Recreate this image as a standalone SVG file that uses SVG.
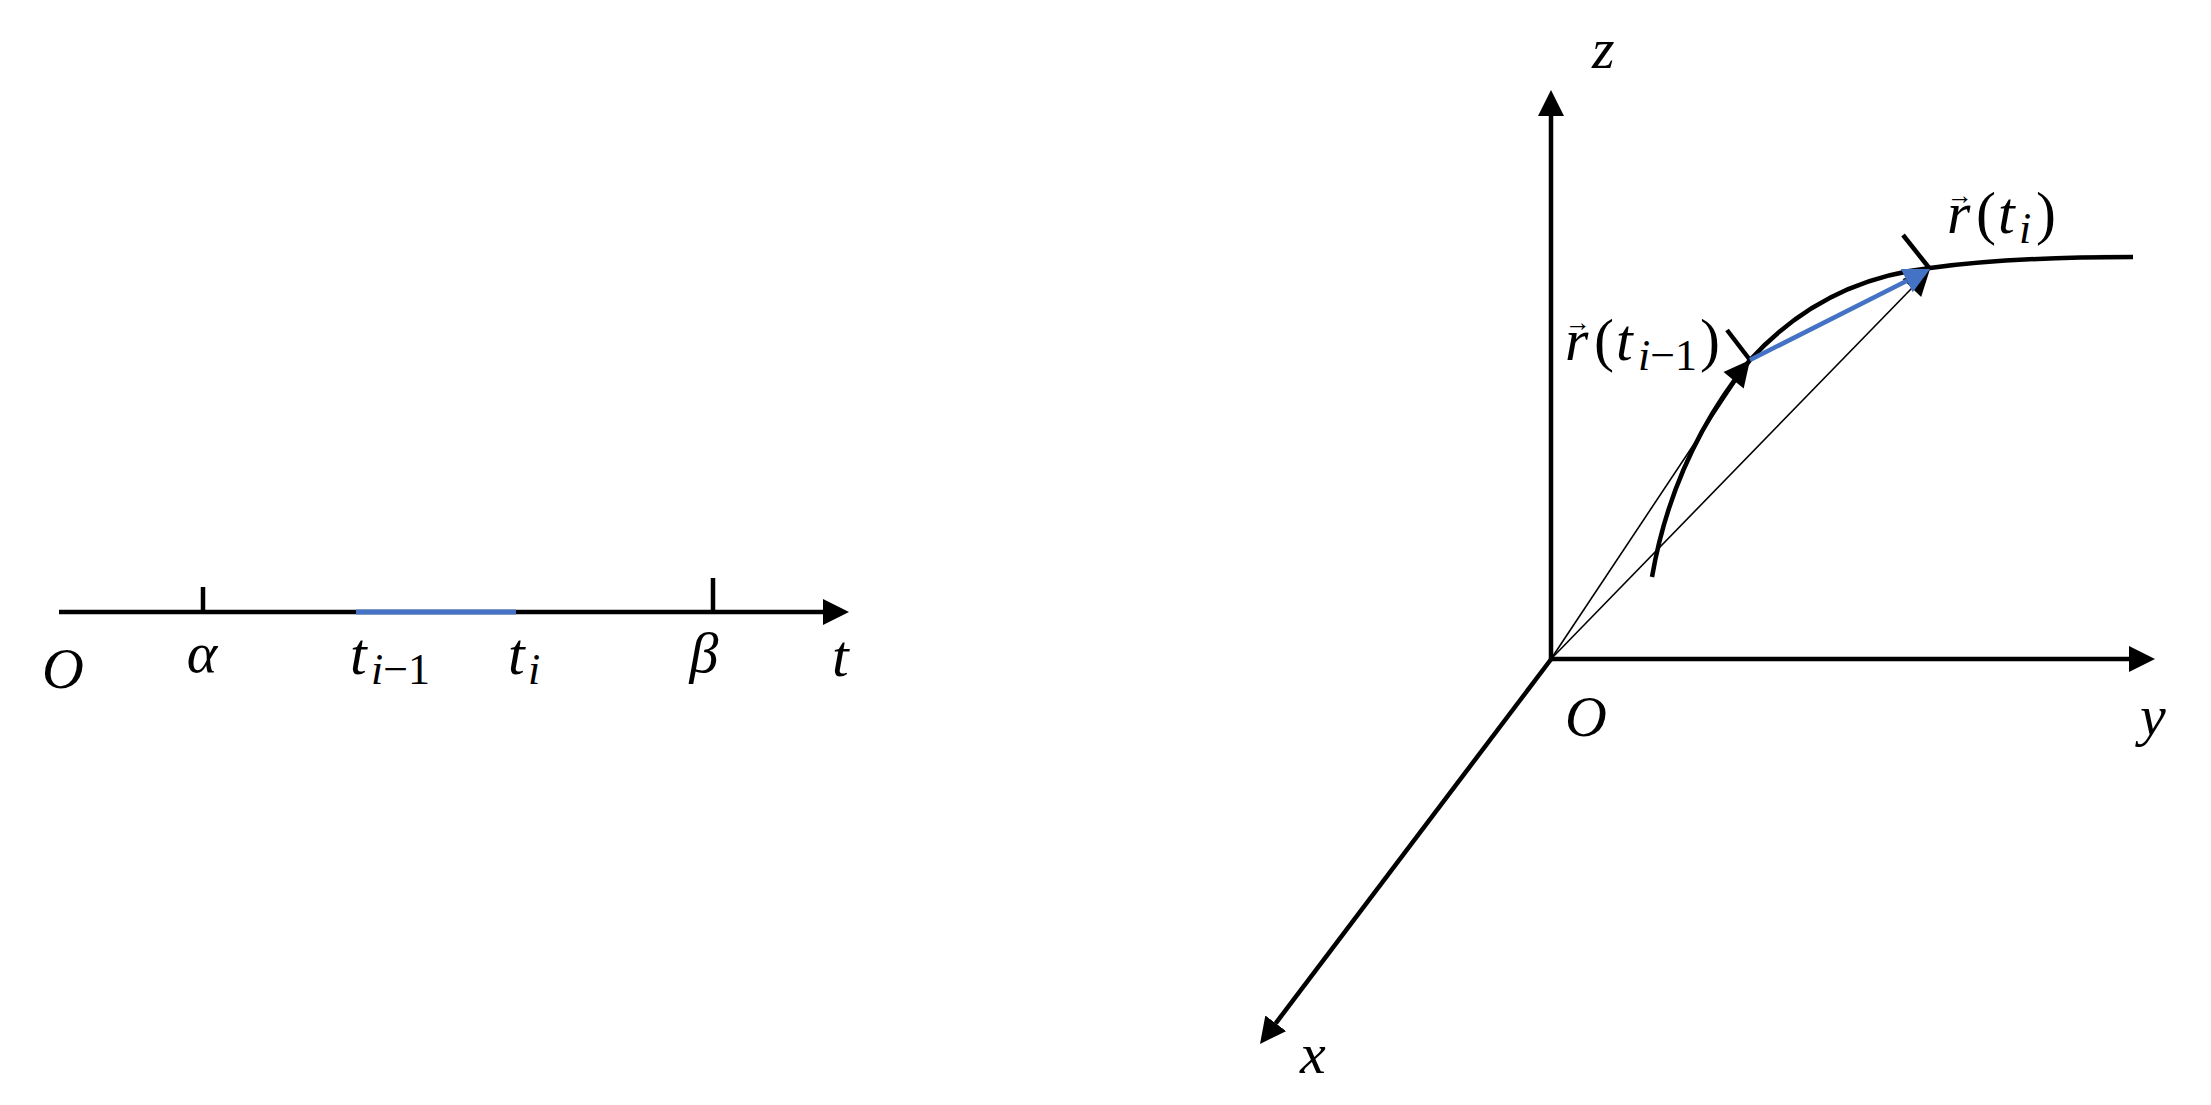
<svg xmlns="http://www.w3.org/2000/svg" width="2211" height="1105" viewBox="0 0 2211 1105">
<style>
.ax{stroke:#000;stroke-width:4.5;fill:none}
.thin{stroke:#000;stroke-width:1.6;fill:none}
.crv{stroke:#000;stroke-width:4.5;fill:none}
.blue{stroke:#4472C4;stroke-width:4.5;fill:none}
.lbl{font-family:"Liberation Serif","Times New Roman",serif;font-style:italic;font-size:58px;fill:#000}
.big{font-size:60px}
.up{font-style:normal}
.sub{font-size:44px}
.vec{font-style:normal;font-size:26px}
</style>
<defs>
<marker id="ah" viewBox="0 0 26 26" refX="0" refY="13" markerWidth="26" markerHeight="26" markerUnits="userSpaceOnUse" orient="auto">
<path d="M0,0 L26,13 L0,26 z" fill="#000"/>
</marker>
</defs>
<rect width="2211" height="1105" fill="#fff"/>
<g id="connectors">
<line id="t-axis" class="ax" x1="59" y1="612" x2="823" y2="612" marker-end="url(#ah)"/>
<line id="tick-alpha" class="ax" x1="203" y1="587" x2="203" y2="612"/>
<line id="tick-beta" class="ax" x1="713" y1="578" x2="713" y2="612"/>
<line id="interval" class="blue" x1="356" y1="612" x2="516" y2="612" style="stroke-width:5"/>
<line id="z-axis" class="ax" x1="1551" y1="661" x2="1551" y2="116" marker-end="url(#ah)"/>
<line id="y-axis" class="ax" x1="1549" y1="659" x2="2129" y2="659" marker-end="url(#ah)"/>
<line id="x-axis" class="ax" x1="1552" y1="658" x2="1275.7" y2="1023.3" marker-end="url(#ah)"/>
<line id="pos-prev" class="thin" x1="1551" y1="659" x2="1750" y2="360"/>
<line id="pos-cur" class="thin" x1="1551" y1="659" x2="1912" y2="288"/>
<polygon points="1930,269 1921.2,297 1902.6,279" fill="#000"/>
<path id="curve" class="crv" d="M1652,577 Q1673,455 1750,360 Q1823,280 1930,268 Q2010,257 2133,257"/>
<polygon points="1750,360 1743.7,388.5 1723.5,372.1" fill="#000"/>
<line id="tick-prev" class="ax" x1="1727" y1="330" x2="1750" y2="360"/>
<line id="tick-cur" class="ax" x1="1903" y1="235" x2="1930" y2="269"/>
<line id="chord" class="blue" x1="1750" y1="360" x2="1907" y2="280.7"/>
<polygon points="1930,269 1912.7,292.3 1900.9,269.1" fill="#4472C4"/>
</g>
<g id="label-O-left"><text class="lbl" x="42" y="688">O</text></g>
<g id="label-alpha"><text class="lbl" x="202" y="672" text-anchor="middle">α</text></g>
<g id="label-t-prev"><text class="lbl big" x="350" y="674">t<tspan class="sub" x="371" y="684">i</tspan><tspan class="sub up">−1</tspan></text></g>
<g id="label-t-i"><text class="lbl big" x="508" y="674">t<tspan class="sub" x="528" y="684">i</tspan></text></g>
<g id="label-beta"><text class="lbl" x="704" y="672" text-anchor="middle">β</text></g>
<g id="label-t"><text class="lbl big" x="832" y="676">t</text></g>
<g id="label-z"><text class="lbl" x="1592" y="68">z</text></g>
<g id="label-O-right"><text class="lbl" x="1565" y="736">O</text></g>
<g id="label-y"><text class="lbl" x="2140" y="735">y</text></g>
<g id="label-x"><text class="lbl" x="1300" y="1073">x</text></g>
<g id="label-r-prev"><text class="lbl big" x="1565" y="360">r<tspan class="vec" x="1565" y="331">→</tspan><tspan class="up" x="1594" y="360">(</tspan><tspan x="1616">t</tspan><tspan class="sub" x="1638" y="370">i</tspan><tspan class="sub up">−1</tspan><tspan class="up" x="1700" y="360">)</tspan></text></g>
<g id="label-r-cur"><text class="lbl big" x="1947" y="233">r<tspan class="vec" x="1947" y="204">→</tspan><tspan class="up" x="1976" y="233">(</tspan><tspan x="1998">t</tspan><tspan class="sub" x="2019" y="243">i</tspan><tspan class="up" x="2036" y="233">)</tspan></text></g>
</svg>
